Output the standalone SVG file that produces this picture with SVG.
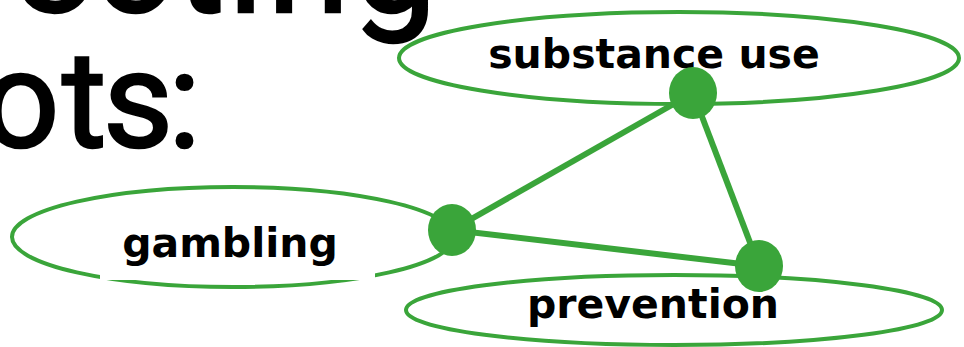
<svg xmlns="http://www.w3.org/2000/svg" width="964" height="347" viewBox="0 0 964 347">
<style>
.title{font-family:Roboto,"Liberation Sans",sans-serif;font-weight:normal;fill:#000;stroke:#000;stroke-width:2.5}
.ell{fill:none;stroke:#3aa53a;stroke-width:4}
.lbl{font-family:"DejaVu Sans",sans-serif;font-weight:bold;font-size:41px;fill:#000;text-anchor:middle}
.edge{stroke:#3aa53a;stroke-width:6;fill:none}
.node{fill:#3aa53a}
</style>
<rect width="964" height="347" fill="#fff"/>
<g id="title">
<text class="title" x="440" y="12" text-anchor="end" font-size="150" letter-spacing="3">ecting</text>
<text class="title" x="-18 62 103 168" y="147" font-size="136">ots:</text>
</g>
<g id="substance-use">
<ellipse class="ell" cx="679" cy="58" rx="280" ry="46"/>
<text class="lbl" x="654" y="68">substance use</text>
</g>
<g id="gambling">
<ellipse class="ell" cx="233" cy="237" rx="221" ry="50"/>
<rect x="100" y="250" width="275" height="30" fill="#fff"/>
<text class="lbl" x="230" y="257">gambling</text>
</g>
<g id="prevention">
<ellipse class="ell" cx="674" cy="310" rx="268" ry="35"/>
<text class="lbl" x="653" y="318">prevention</text>
</g>
<g id="connectors">
<line class="edge" x1="693" y1="93" x2="452" y2="230"/>
<line class="edge" x1="693" y1="93" x2="759" y2="266"/>
<line class="edge" x1="452" y1="230" x2="759" y2="266"/>
</g>
<g id="nodes">
<ellipse id="n-substance" class="node" cx="693" cy="93" rx="24" ry="26"/>
<ellipse id="n-gambling" class="node" cx="452" cy="230" rx="24" ry="26"/>
<ellipse id="n-prevention" class="node" cx="759" cy="266" rx="24" ry="26"/>
</g>
</svg>
